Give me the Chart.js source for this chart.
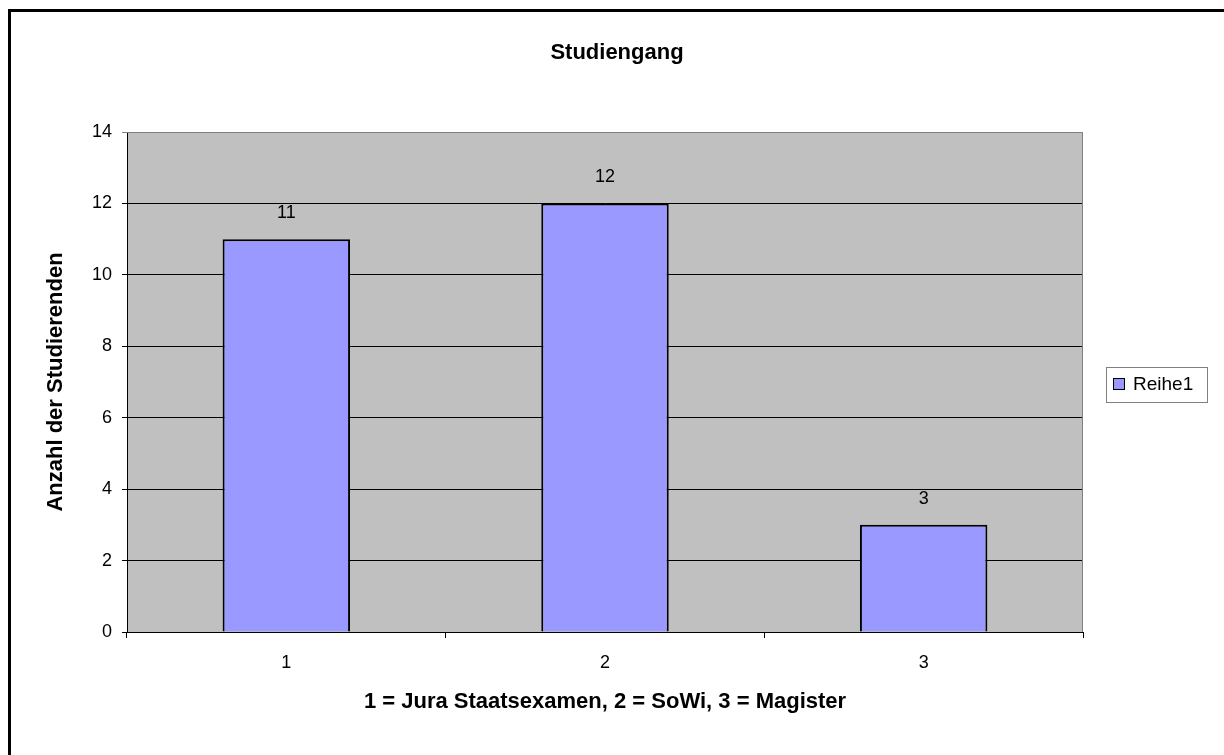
<!DOCTYPE html>
<html>
<head>
<meta charset="utf-8">
<script src="https://cdn.jsdelivr.net/npm/chart.js@4/dist/chart.umd.min.js"></script>
<style>
  html, body { margin: 0; padding: 0; background: #fff; }
  canvas { display: block; }
</style>
</head>
<body>
<canvas id="chart1" width="1224" height="755"></canvas>
<script>
// daten
const categories = ['1', '2', '3'];
const anzahl = [11, 12, 3];
const yTicks = [0, 2, 4, 6, 8, 10, 12, 14];
const seriesName = 'Reihe1';
const chartTitle = 'Studiengang';
const xTitle = '1 = Jura Staatsexamen, 2 = SoWi, 3 = Magister';
const yTitle = 'Anzahl der Studierenden';

const fam = '"Liberation Sans", Arial, sans-serif';

// rahmen, plotfläche, titel, werte über den balken, legende
const excelLook = {
    id: 'excelLook',
    beforeDraw(chart) {
        const { ctx, chartArea: a } = chart;
        ctx.save();
        ctx.fillStyle = '#fff';
        ctx.fillRect(0, 0, chart.width, chart.height);
        ctx.fillStyle = '#c0c0c0';
        ctx.fillRect(a.left, a.top, a.right - a.left, a.bottom - a.top);
        ctx.restore();
    },
    beforeDatasetsDraw(chart) {
        const { ctx, chartArea: a } = chart;
        ctx.save();
        ctx.strokeStyle = '#808080';
        ctx.lineWidth = 1;
        ctx.beginPath();
        ctx.moveTo(a.left, a.top + 0.5);
        ctx.lineTo(a.right - 0.5, a.top + 0.5);
        ctx.lineTo(a.right - 0.5, a.bottom);
        ctx.stroke();
        ctx.restore();
    },
    afterDatasetsDraw(chart) {
        const { ctx } = chart;
        const meta = chart.getDatasetMeta(0);
        ctx.save();
        ctx.fillStyle = '#000';
        ctx.font = '18px ' + fam;
        ctx.textAlign = 'center';
        ctx.textBaseline = 'middle';
        meta.data.forEach((bar, i) => {
            ctx.fillText(String(anzahl[i]), bar.x, bar.y - 26);
        });
        ctx.restore();
    },
    afterDraw(chart) {
        const { ctx } = chart;
        ctx.save();
        // titel
        ctx.fillStyle = '#000';
        ctx.font = 'bold 22px ' + fam;
        ctx.textAlign = 'center';
        ctx.textBaseline = 'middle';
        ctx.fillText(chartTitle, 617, 53);

        // legende
        ctx.strokeStyle = '#808080';
        ctx.lineWidth = 1;
        ctx.strokeRect(1106.5, 367.5, 101, 35);
        ctx.fillStyle = '#9999ff';
        ctx.fillRect(1113, 378, 12, 12);
        ctx.strokeStyle = '#000';
        ctx.strokeRect(1113.5, 378.5, 11, 11);
        ctx.fillStyle = '#000';
        ctx.font = '19px ' + fam;
        ctx.textAlign = 'left';
        ctx.fillText(chart.data.datasets[0].label, 1133, 385);

        // äußerer rahmen
        ctx.strokeStyle = '#000';
        ctx.lineWidth = 3;
        ctx.beginPath();
        ctx.moveTo(9.5, chart.height);
        ctx.lineTo(9.5, 10.5);
        ctx.lineTo(chart.width, 10.5);
        ctx.stroke();
        ctx.restore();
    }
};

const ctx1 = document.getElementById('chart1').getContext('2d');
new Chart(ctx1, {
    type: 'bar',
    data: {
        labels: categories,
        datasets: [{
            label: seriesName,
            data: anzahl,
            backgroundColor: '#9999ff',
            borderColor: '#000',
            borderWidth: 2,
            barPercentage: 0.4,
            categoryPercentage: 1
        }]
    },
    options: {
        responsive: false,
        animation: false,
        layout: { padding: { top: 132, right: 141, bottom: 0, left: 0 } },
        plugins: {
            legend: { display: false },
            title: { display: false },
            tooltip: { enabled: false }
        },
        scales: {
            x: {
                grid: { offset: true, drawOnChartArea: false, tickLength: 6, color: '#000' },
                border: { color: '#000', width: 1 },
                ticks: { color: '#000', font: { family: fam, size: 18 }, padding: 14 },
                title: {
                    display: true, text: xTitle, color: '#000',
                    font: { family: fam, size: 22, weight: 'bold' },
                    padding: { top: 0, bottom: 40 }
                },
                afterFit(s) { s.height = 123; }
            },
            y: {
                min: yTicks[0],
                max: yTicks[yTicks.length - 1],
                ticks: { stepSize: yTicks[1] - yTicks[0], color: '#000', font: { family: fam, size: 18 }, padding: 10 },
                grid: {
                    tickLength: 5,
                    color: c => (c.tick && c.tick.value === yTicks[yTicks.length - 1]) ? '#808080' : '#000'
                },
                border: { color: '#000', width: 1 },
                title: {
                    display: true, text: yTitle, color: '#000',
                    font: { family: fam, size: 22, weight: 'bold' },
                    padding: { top: 43, bottom: 0 }
                },
                afterFit(s) { s.width = 127; }
            }
        }
    },
    plugins: [excelLook]
});
</script>
</body>
</html>
